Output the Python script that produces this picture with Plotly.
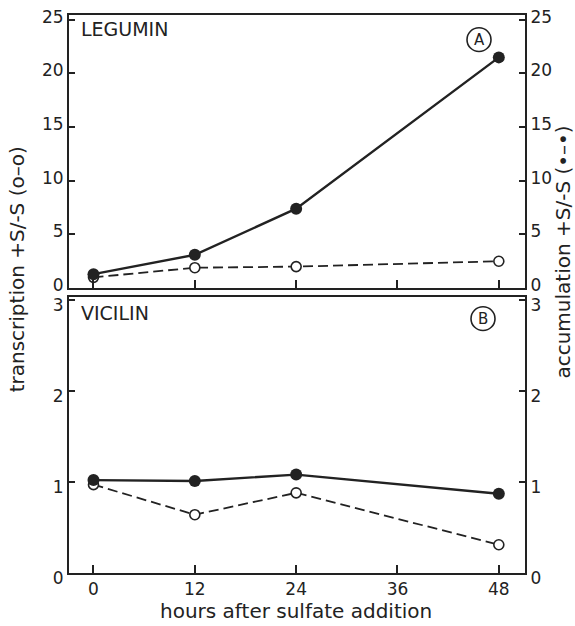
import plotly.graph_objects as go

hours = [0, 12, 24, 48]
leg_accum = [1.3, 3.1, 7.4, 21.5]      # filled circles (accumulation)
leg_transc = [1.0, 1.9, 2.0, 2.5]      # open circles (transcription)
vic_accum = [1.02, 1.01, 1.08, 0.87]
vic_transc = [0.97, 0.64, 0.88, 0.31]

x_ticks = [0, 12, 24, 36, 48]
top_ticks = [0, 5, 10, 15, 20, 25]
bot_ticks = [0, 1, 2, 3]

INK = "#222222"
FONT = "DejaVu Sans, Liberation Sans, Arial, sans-serif"

fig = go.Figure()

def filled(x, y, xa, ya):
    return go.Scatter(x=x, y=y, xaxis=xa, yaxis=ya, mode="lines+markers",
                      line=dict(color=INK, width=2.4),
                      marker=dict(symbol="circle", size=12, color=INK),
                      showlegend=False, cliponaxis=False)

def opened(x, y, xa, ya):
    return go.Scatter(x=x, y=y, xaxis=xa, yaxis=ya, mode="lines+markers",
                      line=dict(color=INK, width=1.8, dash="10px,5px"),
                      marker=dict(symbol="circle", size=10, color="white",
                                  line=dict(color=INK, width=1.6)),
                      showlegend=False, cliponaxis=False)

fig.add_trace(opened(hours, leg_transc, "x", "y"))
fig.add_trace(filled(hours, leg_accum, "x", "y3"))
fig.add_trace(opened(hours, vic_transc, "x2", "y2"))
fig.add_trace(filled(hours, vic_accum, "x2", "y4"))

xr = [-2.9, 51.1]
top_dom = [0.5106, 1.0]
bot_dom = [0.0, 0.4947]
top_rng = [0, 25.45]
bot_rng = [0, 3.03]

axfont = dict(family=FONT, size=17, color=INK)
common_x = dict(range=xr, tickvals=x_ticks, ticks="inside", ticklen=8, tickwidth=2,
                tickcolor=INK, showline=True, linecolor=INK, linewidth=2,
                mirror=True, showgrid=False, zeroline=False, tickfont=axfont)
common_y = dict(ticks="inside", ticklen=6, tickwidth=2, tickcolor=INK,
                showline=True, linecolor=INK, linewidth=2, showgrid=False,
                zeroline=False, tickfont=axfont)

fig.update_layout(
    width=575, height=626, autosize=False,
    margin=dict(l=69, r=50, t=7, b=53),
    paper_bgcolor="white", plot_bgcolor="white",
    font=dict(family=FONT, size=19, color=INK),
    xaxis=dict(domain=[0, 1], anchor="y", showticklabels=False, **common_x),
    xaxis2=dict(domain=[0, 1], anchor="y2", showticklabels=True, **common_x),
    yaxis=dict(domain=top_dom, anchor="x", range=top_rng, tickvals=top_ticks,
               ticklabelshift=-3, **common_y),
    yaxis2=dict(domain=bot_dom, anchor="x2", range=bot_rng, tickvals=bot_ticks,
                ticklabelshift=5, **common_y),
    yaxis3=dict(overlaying="y", side="right", anchor="x", range=top_rng,
                tickvals=top_ticks, ticklabelshift=-3, **common_y),
    yaxis4=dict(overlaying="y2", side="right", anchor="x2", range=bot_rng,
                tickvals=bot_ticks, ticklabelshift=5, **common_y),
)

def px(x):
    return (x - 69) / 456

def py(y):
    return (573 - y) / 566

ann = [
    dict(text="LEGUMIN", x=px(79), y=py(21), xanchor="left", yanchor="middle"),
    dict(text="VICILIN", x=px(79), y=py(309), xanchor="left", yanchor="middle"),
    dict(text="hours after sulfate addition", x=px(296), y=py(612),
         xanchor="center", yanchor="middle",
         font=dict(family=FONT, size=20, color=INK)),
    dict(text="transcription +S/-S (o–o)", x=px(17), y=py(265), textangle=-90,
         xanchor="center", yanchor="middle",
         font=dict(family=FONT, size=20, color=INK)),
    dict(text="accumulation +S/-S (•–•)", x=px(563), y=py(248), textangle=-90,
         xanchor="center", yanchor="middle",
         font=dict(family=FONT, size=20, color=INK)),
    dict(text="A", x=px(479), y=py(32), xanchor="center", yanchor="middle",
         font=dict(family=FONT, size=15, color=INK)),
    dict(text="B", x=px(483), y=py(315), xanchor="center", yanchor="middle",
         font=dict(family=FONT, size=15, color=INK)),
]
for a in ann:
    a.setdefault("font", dict(family=FONT, size=19, color=INK))
    fig.add_annotation(xref="paper", yref="paper", showarrow=False, **a)

r = 12
for cx, cy in [(479, 32), (483, 315)]:
    fig.add_shape(type="circle", xref="paper", yref="paper",
                  x0=px(cx - r), x1=px(cx + r), y0=py(cy + r), y1=py(cy - r),
                  line=dict(color=INK, width=1.6))

fig.write_html("out.html", config={"displayModeBar": False},
               post_script="document.body.style.margin='0';document.body.style.overflow='hidden';")
